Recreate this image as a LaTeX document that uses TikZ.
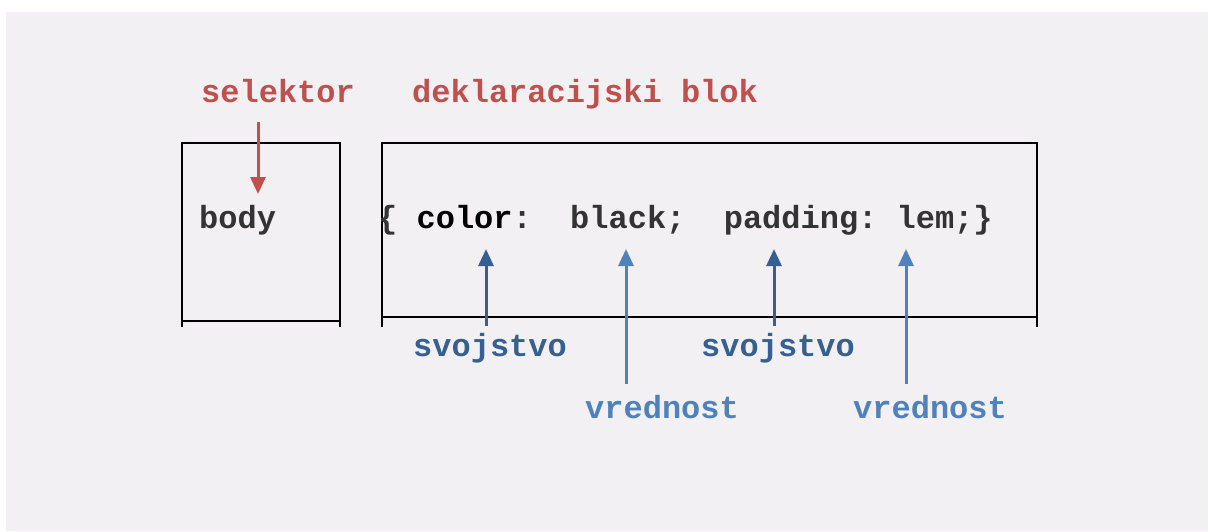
\documentclass[tikz,border=0pt]{standalone}
\usepackage{fontspec}
\setmonofont{Liberation Mono}
\usetikzlibrary{arrows.meta}
\definecolor{panel}{HTML}{F2F0F3}
\definecolor{selred}{HTML}{C0504D}
\definecolor{propblue}{HTML}{366092}
\definecolor{valblue}{HTML}{4F81BD}
\definecolor{codegray}{HTML}{333333}
\tikzset{
  lbl/.style={inner sep=0pt, anchor=base west, font=\fontsize{32}{36}\selectfont\ttfamily\bfseries},
  boxline/.style={line width=2pt, black},
  pointer/.style={line width=3pt, -{Triangle[length=17pt,width=15pt]}},
}
\begin{document}
\begin{tikzpicture}[x=1pt,y=-1pt]
  % canvas and panel
  \fill[white] (0,0) rectangle (1208,531);
  \fill[panel] (6,12) rectangle (1208,531);
  \useasboundingbox (0,0) rectangle (1208,531);

  % headings
  \node[lbl, text=selred] (sel) at (201,102) {selektor};
  \node[lbl, text=selred] (dek) at (412,102) {deklaracijski blok};

  % selector box
  \draw[boxline] (182,327) -- (182,143) -- (340,143) -- (340,327);
  \draw[boxline] (182,321) -- (340,321);
  % declaration box
  \draw[boxline] (382,327) -- (382,143) -- (1037,143) -- (1037,327);
  \draw[boxline] (382,317) -- (1037,317);

  % rule text
  \node[lbl, text=codegray] (body) at (199,228) {body};
  \node[lbl, text=codegray] (decl) at (378,228)
    {\{\ \textcolor{black}{color}:\ \ black;\ \ padding:\ lem;\}};

  % part labels
  \node[lbl, text=propblue] (prop1) at (413,356) {svojstvo};
  \node[lbl, text=propblue] (prop2) at (701,356) {svojstvo};
  \node[lbl, text=valblue] (val1) at (585,418) {vrednost};
  \node[lbl, text=valblue] (val2) at (853,418) {vrednost};

  % arrow ends
  \coordinate (selTop) at (258,122);
  \coordinate (selTip) at (258,194);
  \coordinate (p1Tail) at (486,326);
  \coordinate (p1Tip) at (486,249);
  \coordinate (v1Tail) at (626,384);
  \coordinate (v1Tip) at (626,249);
  \coordinate (p2Tail) at (774,326);
  \coordinate (p2Tip) at (774,249);
  \coordinate (v2Tail) at (906,384);
  \coordinate (v2Tip) at (906,249);

  % pointers
  \draw[pointer, selred] (selTop) -- (selTip);
  \draw[pointer, propblue] (p1Tail) -- (p1Tip);
  \draw[pointer, valblue] (v1Tail) -- (v1Tip);
  \draw[pointer, propblue] (p2Tail) -- (p2Tip);
  \draw[pointer, valblue] (v2Tail) -- (v2Tip);
\end{tikzpicture}
\end{document}
